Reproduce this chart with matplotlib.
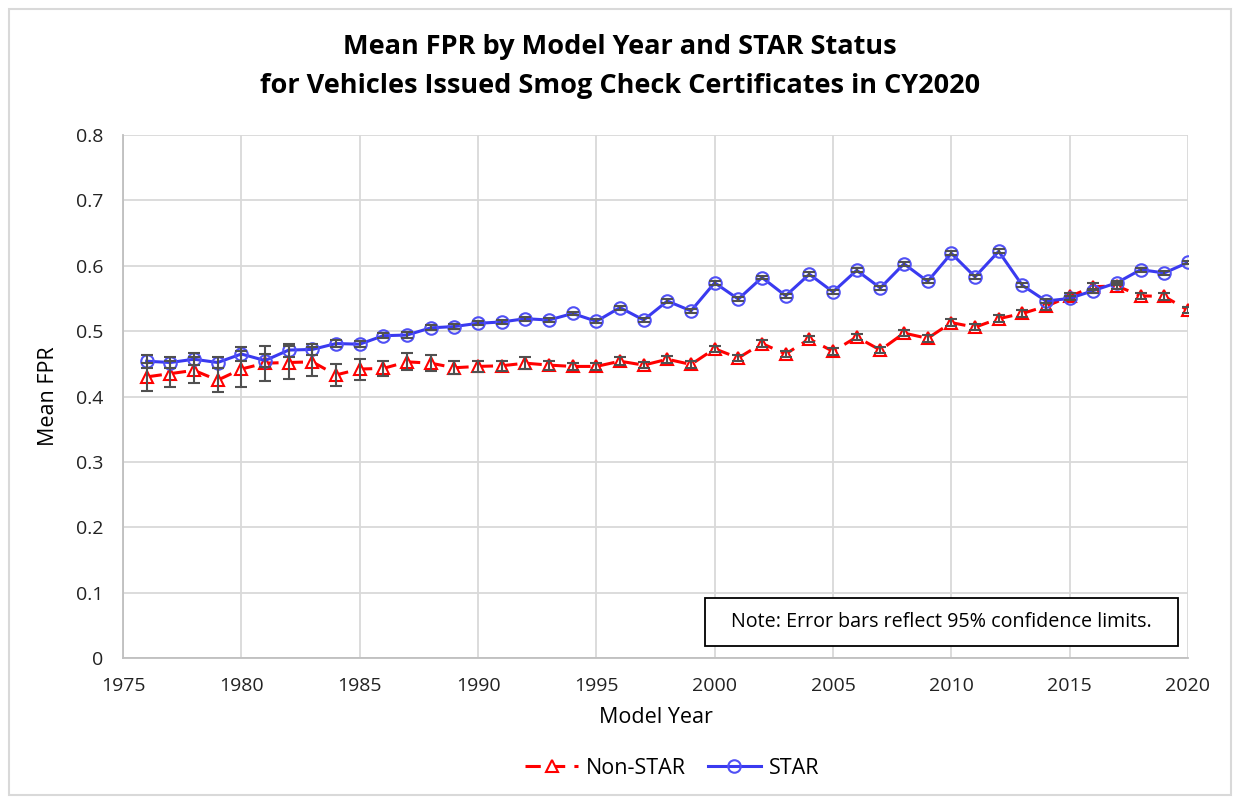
import matplotlib.pyplot as plt
from matplotlib.patches import Rectangle
import numpy as np

plt.rcParams['font.family'] = ['Open Sans', 'DejaVu Sans']

# 모델 연도
years = list(range(1976, 2021))

# STAR 평균 FPR
star = [0.454, 0.452, 0.457, 0.452, 0.465, 0.455, 0.471, 0.472, 0.481, 0.480,
        0.493, 0.494, 0.505, 0.507, 0.512, 0.514, 0.519, 0.517, 0.527, 0.515,
        0.536, 0.517, 0.546, 0.531, 0.574, 0.549, 0.582, 0.554, 0.587, 0.560,
        0.593, 0.566, 0.603, 0.576, 0.619, 0.583, 0.622, 0.570, 0.546, 0.550,
        0.562, 0.574, 0.594, 0.589, 0.605]
star_err = [0.010, 0.008, 0.009, 0.008, 0.011, 0.010, 0.010, 0.009, 0.006, 0.005,
            0.004, 0.004, 0.004, 0.004, 0.003, 0.003, 0.003, 0.003, 0.003, 0.003,
            0.003, 0.003, 0.003, 0.003, 0.003, 0.003, 0.003, 0.003, 0.003, 0.003,
            0.003, 0.003, 0.003, 0.003, 0.003, 0.003, 0.003, 0.003, 0.003, 0.003,
            0.003, 0.003, 0.003, 0.003, 0.003]

# Non-STAR 평균 FPR
nonstar = [0.430, 0.435, 0.440, 0.425, 0.442, 0.451, 0.452, 0.453, 0.433, 0.442,
           0.443, 0.453, 0.451, 0.444, 0.446, 0.447, 0.451, 0.448, 0.446, 0.446,
           0.454, 0.448, 0.457, 0.449, 0.473, 0.459, 0.481, 0.465, 0.488, 0.469,
           0.491, 0.471, 0.497, 0.489, 0.513, 0.506, 0.519, 0.527, 0.538, 0.553,
           0.568, 0.569, 0.554, 0.553, 0.532]
nonstar_err = [0.022, 0.020, 0.020, 0.018, 0.027, 0.027, 0.025, 0.022, 0.017, 0.016,
               0.012, 0.013, 0.012, 0.010, 0.009, 0.008, 0.009, 0.007, 0.006, 0.006,
               0.006, 0.005, 0.005, 0.005, 0.005, 0.005, 0.005, 0.005, 0.005, 0.005,
               0.005, 0.005, 0.005, 0.005, 0.005, 0.005, 0.005, 0.005, 0.005, 0.005,
               0.005, 0.005, 0.005, 0.005, 0.005]

fig = plt.figure(figsize=(12.35, 7.98), dpi=100)
ax = fig.add_axes([123 / 1235, 1 - 658 / 798, (1188 - 123) / 1235, (658 - 135) / 798])

# 선과 마커
ax.plot(years, nonstar, color='#ff0000', lw=2.2, ls=(0, (5, 3)), marker='^',
        ms=8, mfc='white', mec='#ff0000', mew=1.5, label='Non-STAR', zorder=3)
ax.plot(years, star, color='#3a3af0', lw=2.2, marker='o',
        ms=9, mfc='none', mec='#5050f5', mew=1.5, label='STAR', zorder=3)

# 오차 막대 (95% 신뢰구간)
ax.errorbar(years, nonstar, yerr=nonstar_err, fmt='none', ecolor='#505050',
            elinewidth=1.5, capsize=4, capthick=1.5, zorder=4)
ax.errorbar(years, star, yerr=star_err, fmt='none', ecolor='#505050',
            elinewidth=1.5, capsize=4, capthick=1.5, zorder=4)

ax.set_xlim(1975, 2020)
ax.set_ylim(0, 0.8)
ax.set_xticks(range(1975, 2021, 5))
ax.set_yticks(np.arange(0, 0.81, 0.1))
ax.set_yticklabels(['0'] + [f'{v:.1f}' for v in np.arange(0.1, 0.81, 0.1)])
ax.grid(True, color='#d9d9d9', lw=1.3)
ax.set_axisbelow(True)
for side in ['top', 'right']:
    ax.spines[side].set_visible(False)
for side in ['left', 'bottom']:
    ax.spines[side].set_color('#bfbfbf')
    ax.spines[side].set_linewidth(1.3)
ax.tick_params(length=0, labelsize=14, colors='#222222')
ax.tick_params(axis='x', pad=14)
ax.tick_params(axis='y', pad=14)

ax.set_xlabel('Model Year', fontsize=15.5, labelpad=8)
ax.set_ylabel('Mean FPR', fontsize=15.5, labelpad=12)

fig.text(0.502, 1 - 47 / 798, 'Mean FPR by Model Year and STAR Status',
         ha='center', va='center', fontsize=19.5, fontweight='bold')
fig.text(0.502, 1 - 86 / 798, 'for Vehicles Issued Smog Check Certificates in CY2020',
         ha='center', va='center', fontsize=19.5, fontweight='bold')

# 주석 상자
ax.add_patch(Rectangle((0.5465, 0.023), 0.4441, 0.092, transform=ax.transAxes,
                       fc='white', ec='black', lw=1.3, zorder=5))
ax.text(0.7686, 0.069, 'Note: Error bars reflect 95% confidence limits.',
        transform=ax.transAxes, ha='center', va='center', fontsize=14.2, zorder=6)

fig.legend(loc='center', bbox_to_anchor=(672 / 1235, 1 - 768 / 798), ncol=2,
           frameon=False, fontsize=15.5, handlelength=2.5, columnspacing=1.0,
           handletextpad=0.35)

# 차트 테두리
fig.patches.append(Rectangle((9 / 1235, 3 / 798), 1222 / 1235, 786 / 798,
                             transform=fig.transFigure, fill=False,
                             ec='#d9d9d9', lw=1.5))

fig.savefig('out.png', dpi=100)
